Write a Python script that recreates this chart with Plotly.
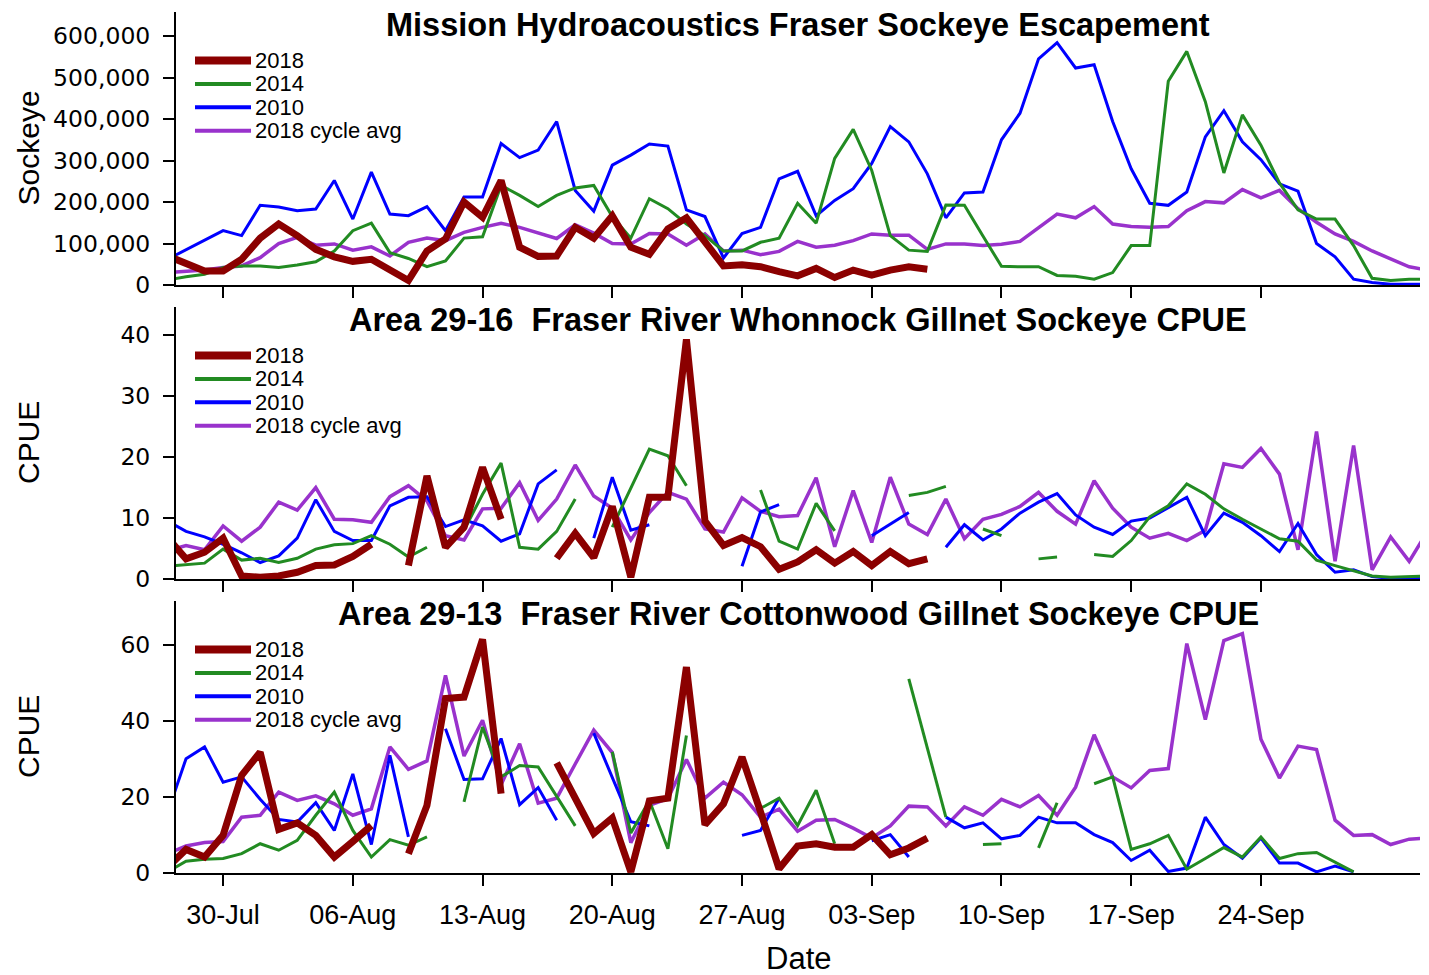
import datetime as dt
import plotly.graph_objects as go

N = None
# ---------------- data (daily, 27-Jul-2018 .. 03-Oct-2018) ----------------
DATES = [dt.date(2018, 7, 27) + dt.timedelta(days=i) for i in range(69)]
TICK_DATES = [dt.date(2018, 7, 30), dt.date(2018, 8, 6), dt.date(2018, 8, 13),
              dt.date(2018, 8, 20), dt.date(2018, 8, 27), dt.date(2018, 9, 3),
              dt.date(2018, 9, 10), dt.date(2018, 9, 17), dt.date(2018, 9, 24)]
SERIES_NAMES = ["2018", "2014", "2010", "2018 cycle avg"]
PANEL_TITLES = ["Mission Hydroacoustics Fraser Sockeye Escapement",
                "Area 29-16\u00a0 Fraser River Whonnock Gillnet Sockeye CPUE",
                "Area 29-13\u00a0 Fraser River Cottonwood Gillnet Sockeye CPUE"]
Y_TITLES = ["Sockeye", "CPUE", "CPUE"]

# Panel 1: Mission hydroacoustic escapement (fish/day)
ESC_2018 = [70000, 50000, 34000, 34000,
            62000, 113000, 147000, 119000, 86000, 68000, 57000, 62000, 38000, 11000,
            82000, 111000, 200000, 163000, 252000, 91000, 69000, 70000, 139000, 113000,
            167000, 91000, 74000, 135000, 162000, 107000, 46000, 49000, 44000, 32000,
            22000, 40000, 18000, 36000, 24000, 36000, 44000, 38000, N, N,
            N, N, N, N, N, N, N, N, N, N,
            N, N, N, N, N, N, N, N, N, N,
            N, N, N, N, N]
ESC_2014 = [12000, 20000, 26000, 42000,
            46000, 46000, 42000, 48000, 56000, 82000, 131000, 149000, 78000, 64000,
            44000, 58000, 113000, 116000, 240000, 216000, 189000, 216000, 234000, 240000,
            165000, 113000, 208000, 184000, 147000, 119000, 82000, 82000, 103000, 113000,
            197000, 149000, 305000, 375000, 276000, 119000, 84000, 81000, 193000, 192000,
            118000, 45000, 44000, 44000, 23000, 21000, 14000, 30000, 95000, 95000,
            491000, 563000, 442000, 270000, 410000, 337000, 246000, 181000, 159000, 159000,
            95000, 16000, 11000, 14000, 14000]
ESC_2010 = [62000, 85000, 107000, 131000,
            119000, 192000, 188000, 179000, 183000, 252000, 159000, 272000, 171000, 167000,
            189000, 131000, 212000, 212000, 341000, 307000, 325000, 394000, 228000, 178000,
            289000, 313000, 340000, 335000, 181000, 165000, 65000, 124000, 139000, 256000,
            274000, 167000, 204000, 232000, 293000, 382000, 345000, 268000, 162000, 222000,
            224000, 350000, 414000, 545000, 584000, 523000, 531000, 394000, 280000, 197000,
            192000, 224000, 357000, 420000, 345000, 302000, 244000, 226000, 100000, 68000,
            14000, 6000, 2000, 2000, 2000]
ESC_AVG = [30000, 33000, 36000, 42000,
           46000, 66000, 100000, 115000, 96000, 99000, 84000, 92000, 70000, 103000,
           113000, 107000, 127000, 139000, 149000, 139000, 125000, 112000, 145000, 125000,
           100000, 99000, 124000, 123000, 96000, 123000, 82000, 84000, 73000, 81000,
           105000, 91000, 96000, 107000, 123000, 120000, 120000, 86000, 99000, 99000,
           95000, 98000, 105000, 139000, 171000, 162000, 189000, 147000, 141000, 139000,
           141000, 179000, 201000, 198000, 230000, 210000, 228000, 184000, 151000, 123000,
           105000, 82000, 62000, 44000, 36000]

# Panel 2: Whonnock gillnet CPUE
WHON_2018 = [6.8, 3.3, 4.4, 6.7,
             0.5, 0.3, 0.5, 1.1, 2.2, 2.3, 3.7, 5.7, N, 2.2,
             16.9, 5.2, 8.5, 18.3, 9.8, N, N, 3.4, 7.5, 3.5,
             11.9, 0.3, 13.4, 13.4, 39.3, 9.5, 5.5, 6.8, 5.3, 1.6,
             2.8, 4.8, 2.6, 4.5, 2.2, 4.5, 2.5, 3.3, N, N,
             N, N, N, N, N, N, N, N, N, N,
             N, N, N, N, N, N, N, N, N, N,
             N, N, N, N, N]
WHON_2014 = [2.1, 2.3, 2.6, 4.9,
             3.1, 3.4, 2.7, 3.4, 4.9, 5.6, 5.8, 7.1, 5.7, 3.6,
             5.2, N, 8.0, 13.9, 19.0, 5.2, 4.9, 7.8, 13.1, N,
             8.5, 15.0, 21.3, 20.2, 15.3, N, N, N, 14.6, 6.2,
             4.9, 12.4, 7.9, N, N, N, 13.7, 14.2, 15.2, N,
             8.2, 7.1, N, 3.3, 3.6, N, 4.0, 3.7, 6.3, 10.2,
             12.0, 15.6, 13.9, 11.5, 9.8, 8.2, 6.6, 6.2, 3.1, 2.2,
             1.4, 0.5, 0.3, 0.4, 0.5]
WHON_2010 = [9.5, 7.8, 6.9, 5.7,
             4.3, 2.7, 3.8, 6.7, 13.0, 7.8, 6.3, 6.3, 12.0, 13.4,
             13.5, 8.6, 9.7, 8.7, 6.2, 7.4, 15.6, 17.9, N, 6.7,
             16.7, 8.0, 8.9, N, N, N, N, 2.1, 11.0, 12.2,
             N, N, N, N, 7.1, 9.0, 10.9, N, 5.2, 8.9,
             6.4, 8.2, 10.8, 12.6, 14.0, 10.5, 8.5, 7.3, 9.5, 10.0,
             11.7, 13.4, 7.1, 10.8, 9.3, 7.1, 4.5, 9.1, 4.0, 1.1,
             1.5, 0.4, 0.1, 0.1, 0.1]
WHON_AVG = [4.6, 5.5, 4.8, 8.7,
            6.2, 8.5, 12.6, 11.3, 15.0, 9.8, 9.7, 9.3, 13.5, 15.3,
            12.8, 7.1, 6.4, 11.5, 11.6, 15.8, 9.6, 13.1, 18.7, 13.6,
            11.6, 6.4, 10.9, 14.2, 13.1, 8.2, 7.7, 13.3, 11.1, 10.2,
            10.4, 16.6, 5.3, 14.5, 6.0, 16.7, 9.0, 7.3, 13.1, 6.6,
            9.8, 10.6, 11.9, 14.2, 11.1, 9.0, 16.1, 11.6, 8.5, 6.7,
            7.5, 6.3, 8.0, 18.9, 18.3, 21.4, 17.2, 4.8, 24.2, 2.9,
            21.9, 1.5, 6.9, 2.9, 7.9]

# Panel 3: Cottonwood gillnet CPUE
COTT_2018 = [1.5, 6.2, 4.2, 9.9,
             25.7, 31.8, 11.5, 13.2, 9.9, 4.2, 8.3, 12.5, N, 5.1,
             17.8, 45.9, 46.3, 61.5, 20.9, N, N, 29.0, 19.7, 10.4,
             14.5, 0.3, 19.0, 19.7, 54.2, 12.7, 18.2, 30.5, 16.1, 1.1,
             7.1, 7.7, 6.8, 6.8, 10.1, 4.8, 6.6, 9.2, N, N,
             N, N, N, N, N, N, N, N, N, N,
             N, N, N, N, N, N, N, N, N, N,
             N, N, N, N, N]
COTT_2014 = [0.3, 3.1, 3.6, 3.8,
             5.1, 7.7, 6.0, 8.6, 15.2, 21.3, 11.2, 4.2, 8.8, 7.3,
             9.5, N, 18.7, 38.4, 25.3, 28.3, 27.9, 20.0, 12.4, N,
             31.9, 10.5, 19.1, 6.4, 36.2, N, N, N, 17.0, 19.7,
             12.5, 21.8, 7.7, N, N, N, 51.1, 33.0, 14.7, N,
             7.5, 7.7, N, 6.6, 18.5, N, 23.5, 25.3, 6.2, 7.7,
             9.9, 1.0, 3.8, 6.7, 4.2, 9.5, 3.8, 5.1, 5.4, 2.9,
             0.3, N, N, N, N]
COTT_2010 = [15.8, 30.1, 33.2, 23.9,
             25.3, 19.4, 14.1, 13.4, 18.5, 11.2, 26.1, 7.5, 31.0, 9.5,
             N, 38.0, 24.6, 24.8, 35.4, 18.0, 22.5, 13.9, N, 36.8,
             25.3, 13.5, 12.4, N, N, N, N, 9.9, 11.2, 19.7,
             N, N, N, N, 8.5, 10.1, 4.2, N, 14.7, 11.9,
             13.2, 9.0, 9.9, 14.7, 13.2, 13.2, 10.1, 8.0, 3.3, 6.0,
             0.4, 1.3, 14.7, 7.5, 3.9, 9.2, 2.6, 2.6, 0.3, 1.8,
             0.3, N, N, N, N]
COTT_AVG = [5.1, 7.1, 8.0, 8.3,
            14.7, 15.2, 21.3, 19.1, 20.3, 18.2, 15.2, 16.9, 33.2, 27.3,
            29.5, 52.0, 30.8, 40.2, 23.2, 34.0, 18.4, 19.7, 28.7, 37.6,
            31.7, 8.0, 17.8, 19.6, 29.9, 19.7, 23.9, 20.6, 14.7, 16.8,
            11.0, 13.9, 14.1, 11.8, 9.2, 12.4, 17.6, 17.4, 12.4, 17.4,
            15.2, 19.4, 17.4, 20.4, 15.2, 22.6, 36.4, 25.3, 22.4, 27.0,
            27.5, 60.4, 40.4, 61.2, 63.0, 35.2, 25.0, 33.4, 32.5, 13.9,
            9.9, 10.1, 7.5, 8.9, 9.2]

PANELS = [[ESC_2018, ESC_2014, ESC_2010, ESC_AVG],
          [WHON_2018, WHON_2014, WHON_2010, WHON_AVG],
          [COTT_2018, COTT_2014, COTT_2010, COTT_AVG]]
for p in PANELS:
    for s in p:
        assert len(s) == len(DATES)

# ---------------- styling ----------------
OFF = 8                       # default page (body) margin of the html page
PAGE_W, PAGE_H = 1429, 975
W, H = PAGE_W - OFF, PAGE_H - OFF
ML, MR, MT, MB = 176 - OFF, 9, 12 - OFF, 102
PW, PH = W - ML - MR, H - MT - MB
COLORS = ["#8B0000", "#228B22", "#0000FF", "#9932CC"]
WIDTHS = [7, 3, 3, 3.5]
PANEL_PX = [(12, 285), (307, 579), (601, 873)]      # top/bottom page rows
Y_RANGES = [[0, 658000], [0, 44.6], [0, 71.6]]
Y_DTICK = [100000, 10, 20]
X_RANGE = [dt.datetime(2018, 7, 27, 11), dt.datetime(2018, 10, 2, 14)]
ARIAL = "Liberation Sans, Arial, sans-serif"
WIDE = "DejaVu Sans, Verdana, sans-serif"


def px_x(px):
    return (px - OFF - ML) / PW


def px_y(py):
    return (H - MB - (py - OFF)) / PH


fig = go.Figure()
draw_order = [3, 2, 1, 0]
for pi, panel in enumerate(PANELS):
    sfx = "" if pi == 0 else str(pi + 1)
    for si in draw_order:
        fig.add_trace(go.Scatter(
            x=DATES, y=panel[si], mode="lines", name=SERIES_NAMES[si],
            line=dict(color=COLORS[si], width=WIDTHS[si]),
            connectgaps=False, showlegend=False,
            xaxis="x" + sfx, yaxis="y" + sfx))

layout = dict(width=W, height=H, margin=dict(l=ML, r=MR, t=MT, b=MB),
              paper_bgcolor="white", plot_bgcolor="white", showlegend=False)
for pi in range(3):
    sfx = "" if pi == 0 else str(pi + 1)
    top, bot = PANEL_PX[pi]
    layout["xaxis" + sfx] = dict(
        type="date", range=X_RANGE, domain=[0, 1], anchor="y" + sfx,
        tickmode="array", tickvals=TICK_DATES, tickformat="%d-%b",
        showticklabels=(pi == 2), ticks="outside", ticklen=11, tickwidth=1.5,
        tickcolor="black", showline=True, linecolor="black", linewidth=2,
        showgrid=False, zeroline=False, ticklabelstandoff=6,
        tickfont=dict(family=ARIAL, size=27, color="black"),
        **({} if pi == 0 else {"matches": "x"}))
    layout["yaxis" + sfx] = dict(
        domain=[px_y(bot), px_y(top)], anchor="x" + sfx, range=Y_RANGES[pi],
        dtick=Y_DTICK[pi], tick0=0, tickformat=",d" if pi == 0 else "d",
        ticks="outside", ticklen=11, tickwidth=1.5, tickcolor="black",
        showline=True, linecolor="black", linewidth=2, showgrid=False,
        zeroline=False, ticklabelstandoff=8,
        tickfont=dict(family=WIDE, size=23.5, color="black"))
fig.update_layout(**layout)

ann = []
shapes = []
for pi in range(3):
    top, bot = PANEL_PX[pi]
    ann.append(dict(text=PANEL_TITLES[pi], xref="paper", yref="paper",
                    x=px_x(798), y=px_y(top + 13), xanchor="center", yanchor="middle",
                    showarrow=False, font=dict(family=ARIAL, size=32.5, color="black", weight="bold")))
    ann.append(dict(text=Y_TITLES[pi], xref="paper", yref="paper", textangle=-90,
                    x=px_x(28), y=px_y((top + bot) / 2), xanchor="center", yanchor="middle",
                    showarrow=False, font=dict(family=ARIAL, size=30, color="black")))
    for si in range(4):
        ry = top + 48.5 + 23.4 * si
        shapes.append(dict(type="line", xref="paper", yref="paper",
                           x0=px_x(195), x1=px_x(251), y0=px_y(ry), y1=px_y(ry),
                           line=dict(color=COLORS[si], width=8 if si == 0 else 4)))
        ann.append(dict(text=SERIES_NAMES[si], xref="paper", yref="paper",
                        x=px_x(253), y=px_y(ry), xanchor="left", yanchor="middle",
                        showarrow=False, font=dict(family=ARIAL, size=22, color="black")))
ann.append(dict(text="Date", xref="paper", yref="paper", x=px_x(798), y=px_y(958),
                xanchor="center", yanchor="middle", showarrow=False,
                font=dict(family=ARIAL, size=31, color="black")))
fig.update_layout(annotations=ann, shapes=shapes)

fig.write_html("out.html")
